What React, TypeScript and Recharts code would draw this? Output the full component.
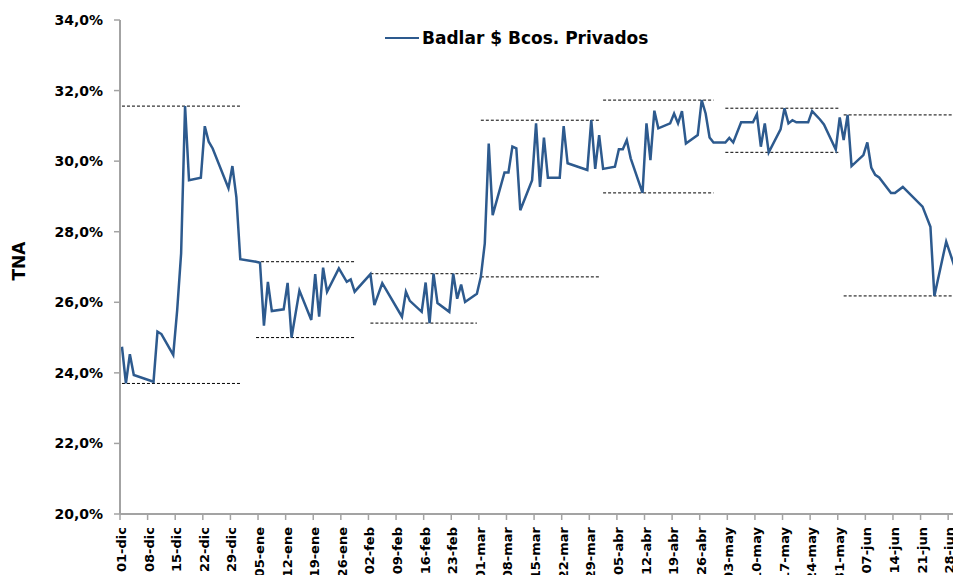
import * as React from 'react';
import {
    Legend,
    Line,
    LineChart,
    ReferenceLine,
    XAxis,
    YAxis,
} from 'recharts';

// Badlar $ Bancos Privados, TNA diaria (dic-2015 a jun-2016)
const fechas = [
    '2015-12-01', '2015-12-02', '2015-12-03', '2015-12-04', '2015-12-09', '2015-12-10', '2015-12-11',
    '2015-12-14', '2015-12-15', '2015-12-16', '2015-12-17', '2015-12-18', '2015-12-21', '2015-12-22',
    '2015-12-23', '2015-12-24', '2015-12-28', '2015-12-29', '2015-12-30', '2015-12-31',
    '2016-01-04', '2016-01-05', '2016-01-06', '2016-01-07', '2016-01-08', '2016-01-11', '2016-01-12',
    '2016-01-13', '2016-01-15', '2016-01-18', '2016-01-19', '2016-01-20', '2016-01-21', '2016-01-22',
    '2016-01-25', '2016-01-27', '2016-01-28', '2016-01-29',
    '2016-02-02', '2016-02-03', '2016-02-05', '2016-02-10', '2016-02-11', '2016-02-12', '2016-02-15',
    '2016-02-16', '2016-02-17', '2016-02-18', '2016-02-19', '2016-02-22', '2016-02-23', '2016-02-24',
    '2016-02-25', '2016-02-26', '2016-02-29',
    '2016-03-01', '2016-03-02', '2016-03-03', '2016-03-04', '2016-03-07', '2016-03-08', '2016-03-09',
    '2016-03-10', '2016-03-11', '2016-03-14', '2016-03-15', '2016-03-16', '2016-03-17', '2016-03-18',
    '2016-03-21', '2016-03-22', '2016-03-23', '2016-03-28', '2016-03-29', '2016-03-30', '2016-03-31',
    '2016-04-01', '2016-04-04', '2016-04-05', '2016-04-06', '2016-04-07', '2016-04-08', '2016-04-11',
    '2016-04-12', '2016-04-13', '2016-04-14', '2016-04-15', '2016-04-18', '2016-04-19', '2016-04-20',
    '2016-04-21', '2016-04-22', '2016-04-25', '2016-04-26', '2016-04-27', '2016-04-28', '2016-04-29',
    '2016-05-02', '2016-05-03', '2016-05-04', '2016-05-06', '2016-05-09', '2016-05-10', '2016-05-11',
    '2016-05-12', '2016-05-13', '2016-05-16', '2016-05-17', '2016-05-18', '2016-05-19', '2016-05-20',
    '2016-05-23', '2016-05-24', '2016-05-26', '2016-05-27', '2016-05-30', '2016-05-31',
    '2016-06-01', '2016-06-02', '2016-06-03', '2016-06-06', '2016-06-07', '2016-06-08', '2016-06-09',
    '2016-06-10', '2016-06-13', '2016-06-14', '2016-06-16', '2016-06-21', '2016-06-23', '2016-06-24',
    '2016-06-27', '2016-06-29',
];

const tna = [
    24.74, 23.70, 24.53, 23.94, 23.75, 25.17, 25.10,
    24.51, 25.78, 27.39, 31.56, 29.46, 29.53, 30.99,
    30.55, 30.36, 29.23, 29.86, 28.99, 27.22,
    27.15, 27.12, 25.34, 26.58, 25.75, 25.80, 26.55,
    25.00, 26.33, 25.50, 26.80, 25.59, 26.98, 26.30,
    26.96, 26.58, 26.65, 26.30,
    26.80, 25.92, 26.54, 25.59, 26.30, 26.04, 25.73,
    26.56, 25.41, 26.81, 25.98, 25.73, 26.81, 26.10,
    26.50, 26.01, 26.24,
    26.72, 27.67, 30.50, 28.47, 29.68, 29.68, 30.41,
    30.36, 28.61, 29.46, 31.07, 29.27, 30.67, 29.53,
    29.53, 30.99, 29.94, 29.75, 31.16, 29.78, 30.74,
    29.78, 29.84, 30.34, 30.34, 30.60, 30.08, 29.10,
    31.07, 30.03, 31.43, 30.93, 31.07, 31.35, 31.07,
    31.42, 30.50, 30.74, 31.73, 31.35, 30.67, 30.53,
    30.53, 30.66, 30.53, 31.10, 31.10, 31.33, 30.41,
    31.07, 30.25, 30.90, 31.50, 31.07, 31.16, 31.10,
    31.10, 31.42, 31.18, 31.04, 30.33, 31.24,
    30.60, 31.31, 29.86, 30.17, 30.53, 29.82, 29.61,
    29.54, 29.10, 29.10, 29.27, 28.71, 28.14, 26.18,
    27.72, 27.05,
];

const etiquetasX = [
    '01-dic', '08-dic', '15-dic', '22-dic', '29-dic', '05-ene', '12-ene', '19-ene', '26-ene',
    '02-feb', '09-feb', '16-feb', '23-feb', '01-mar', '08-mar', '15-mar', '22-mar', '29-mar',
    '05-abr', '12-abr', '19-abr', '26-abr', '03-may', '10-may', '17-may', '24-may', '31-may',
    '07-jun', '14-jun', '21-jun', '28-jun',
];

const ticksY = [20, 22, 24, 26, 28, 30, 32, 34];

const nombreSerie = 'Badlar $ Bcos. Privados';

const AZUL = '#2D5A8E';
const GRIS = '#A3A3A3';
const FUENTE = '"DejaVu Sans", sans-serif';

// dias desde el 01-dic
const inicio = Date.UTC(2015, 11, 1);
const diaDe = (f: string) => {
    const [a, m, d] = f.split('-').map(Number);
    return Math.round((Date.UTC(a, m - 1, d) - inicio) / 86400000);
};

const data = fechas.map((f, i) => ({ dia: diaDe(f), tna: tna[i], mes: f.slice(0, 7) }));

// maximo y minimo de cada mes (lineas punteadas)
const meses: any[] = [];
data.forEach((p) => {
    let m = meses.find((x) => x.mes === p.mes);
    if (!m) {
        m = { mes: p.mes, desde: p.dia, hasta: p.dia, max: p.tna, min: p.tna };
        meses.push(m);
    }
    m.hasta = Math.max(m.hasta, p.dia);
    m.max = Math.max(m.max, p.tna);
    m.min = Math.min(m.min, p.tna);
});

const ticksX = etiquetasX.map((_, i) => i * 7 - 0.5);

function TickFecha({ x, y, payload }: any) {
    const idx = Math.round((payload.value + 0.5) / 7);
    const bx = x + 6;
    const by = y + 5;
    return (
        <text
            x={bx}
            y={by}
            transform={`rotate(-90, ${bx}, ${by})`}
            textAnchor="end"
            fontFamily={FUENTE}
            fontWeight="bold"
            fontSize={13}
            fill="#000"
        >
            {etiquetasX[idx]}
        </text>
    );
}

function EtiquetaTNA({ viewBox }: any) {
    const cx = 19;
    const cy = viewBox.y + viewBox.height / 2 - 6;
    return (
        <text
            x={cx}
            y={cy}
            transform={`rotate(-90, ${cx}, ${cy})`}
            textAnchor="middle"
            dominantBaseline="central"
            fontFamily={FUENTE}
            fontWeight="bold"
            fontSize={17}
            fill="#000"
        >
            TNA
        </text>
    );
}

function Leyenda() {
    return (
        <div
            style={{
                display: 'flex',
                alignItems: 'center',
                fontFamily: FUENTE,
                fontWeight: 'bold',
                fontSize: 17,
                color: '#000',
                whiteSpace: 'nowrap',
            }}
        >
            <span
                style={{
                    display: 'inline-block',
                    width: 34,
                    height: 0,
                    borderTop: `2.5px solid ${AZUL}`,
                    marginRight: 3,
                }}
            />
            {nombreSerie}
        </div>
    );
}

export default function App() {
    return (
        <div
            style={{
                position: 'absolute',
                left: 0,
                top: 0,
                width: 953,
                height: 575,
                overflow: 'hidden',
                background: '#fff',
            }}
        >
            <LineChart
                width={960}
                height={600}
                data={data}
                margin={{ top: 20, right: 0, bottom: 0, left: 0 }}
            >
                <XAxis
                    type="number"
                    dataKey="dia"
                    domain={[-0.5, 212.5]}
                    ticks={ticksX}
                    interval={0}
                    height={86}
                    stroke={GRIS}
                    axisLine={{ stroke: GRIS, strokeWidth: 2 }}
                    tickLine={{ stroke: GRIS, strokeWidth: 1.5 }}
                    tickSize={6}
                    tick={<TickFecha />}
                />
                <YAxis
                    type="number"
                    domain={[20, 34]}
                    ticks={ticksY}
                    width={120}
                    axisLine={{ stroke: GRIS, strokeWidth: 2 }}
                    tickLine={{ stroke: GRIS, strokeWidth: 1.5 }}
                    tickSize={6}
                    tickMargin={11}
                    tickFormatter={(v: number) => v.toFixed(1).replace('.', ',') + '%'}
                    tick={{ fill: '#000', fontSize: 14, fontWeight: 'bold', fontFamily: FUENTE }}
                    label={<EtiquetaTNA />}
                />
                <Legend
                    layout="horizontal"
                    verticalAlign="middle"
                    wrapperStyle={{ top: 28, left: 385, width: 'auto' }}
                    content={<Leyenda />}
                />
                {meses.map((m) => (
                    <ReferenceLine
                        key={m.mes + '-max'}
                        segment={[{ x: m.desde, y: m.max }, { x: m.hasta, y: m.max }]}
                        stroke="#000"
                        strokeWidth={1}
                        strokeDasharray="3 2"
                    />
                ))}
                {meses.map((m) => (
                    <ReferenceLine
                        key={m.mes + '-min'}
                        segment={[{ x: m.desde, y: m.min }, { x: m.hasta, y: m.min }]}
                        stroke="#000"
                        strokeWidth={1}
                        strokeDasharray="3 2"
                    />
                ))}
                <Line
                    type="linear"
                    dataKey="tna"
                    name={nombreSerie}
                    stroke={AZUL}
                    strokeWidth={2.5}
                    dot={false}
                    activeDot={false}
                    isAnimationActive={false}
                />
            </LineChart>
        </div>
    );
}
